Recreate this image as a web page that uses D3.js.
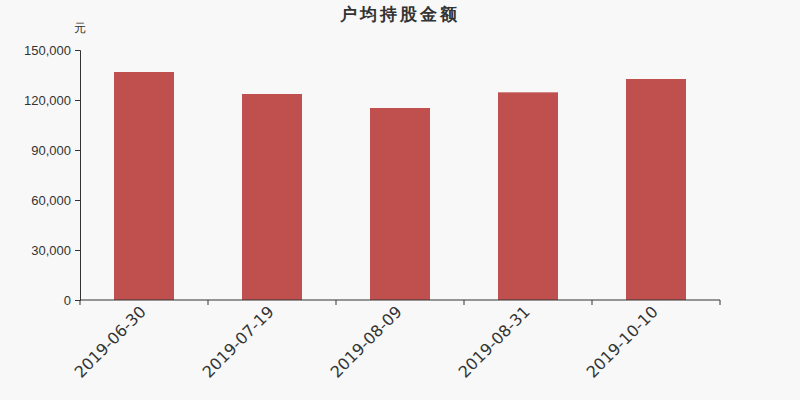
<!DOCTYPE html>
<html>
<head>
<meta charset="utf-8">
<script src="https://cdn.jsdelivr.net/npm/d3@7"></script>
<style>
  body { margin: 0; background: #f8f8f8; }
  svg { display: block; font-family: "DejaVu Sans", sans-serif; }
</style>
</head>
<body>
<svg id="chart" width="800" height="400"></svg>
<script>
var dates = ["2019-06-30", "2019-07-19", "2019-08-09", "2019-08-31", "2019-10-10"];
var amounts = [136800, 123600, 115200, 124600, 132600];
var yTicks = [0, 30000, 60000, 90000, 120000, 150000];

var svg = d3.select("#chart");
var padLeft = 80, padRight = 720, padTop = 50, padBottom = 300;

svg.append("rect").attr("width", 800).attr("height", 400).attr("fill", "#f8f8f8");

var x = d3.scaleBand().domain(dates).range([padLeft, padRight]);
var y = d3.scaleLinear().domain([0, 150000]).range([padBottom, padTop]);

// bars
svg.append("g").selectAll("rect").data(amounts).enter().append("rect")
    .attr("x", function (d, i) { return x(dates[i]) + (x.bandwidth() - 60) / 2; })
    .attr("y", function (d) { return y(d); })
    .attr("width", 60)
    .attr("height", function (d) { return padBottom - y(d); })
    .attr("fill", "#c0504d");

// y axis
var yAxis = svg.append("g")
    .attr("transform", "translate(" + padLeft + ",0)")
    .call(d3.axisLeft(y).tickValues(yTicks).tickSize(5).tickPadding(4).tickFormat(d3.format(",")));
yAxis.select(".domain").attr("stroke", "#333");
yAxis.selectAll(".tick line").attr("stroke", "#333");
yAxis.selectAll("text").attr("fill", "#333").attr("font-size", 13);

// x axis, ticks on band edges
var xAxis = svg.append("g").attr("transform", "translate(0," + padBottom + ")");
xAxis.append("line").attr("x1", padLeft).attr("x2", padRight).attr("stroke", "#333");
xAxis.selectAll(".edge").data(d3.range(dates.length + 1)).enter().append("line")
    .attr("class", "edge")
    .attr("x1", function (i) { return padLeft + i * x.step(); })
    .attr("x2", function (i) { return padLeft + i * x.step(); })
    .attr("y1", 0).attr("y2", 5)
    .attr("stroke", "#333");
xAxis.selectAll("text").data(dates).enter().append("text")
    .attr("transform", function (d) { return "translate(" + (x(d) + x.bandwidth() / 2 - 5) + ",5) rotate(-45)"; })
    .attr("text-anchor", "end")
    .attr("dy", "0.7em")
    .attr("fill", "#333")
    .attr("font-size", 16)
    .text(function (d) { return d; });

// unit label
svg.append("text").attr("x", 80).attr("y", 32).attr("text-anchor", "middle")
    .attr("font-size", 12).attr("fill", "#333").text("元");

// title
svg.append("text").attr("x", 400).attr("y", 20).attr("text-anchor", "middle")
    .attr("font-size", 17).attr("font-weight", "bold").attr("fill", "#333")
    .attr("letter-spacing", 3).text("户均持股金额");
</script>
</body>
</html>
